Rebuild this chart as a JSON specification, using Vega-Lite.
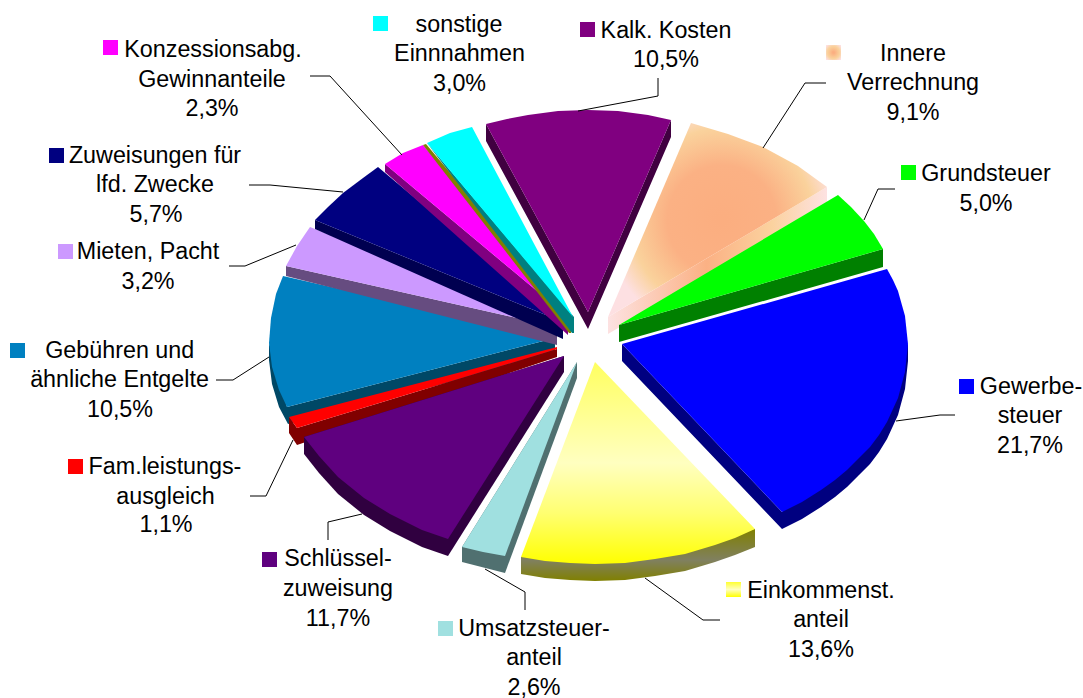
{"$schema":"https://vega.github.io/schema/vega-lite/v6.json","width":1083,"height":698,"padding":0,"autosize":{"type":"none"},"background":"white","config":{"view":{"stroke":null}},
"datasets":{
"shapes":[
{"k":"Gebuehren wall","i":1,"x":287,"y":407},{"k":"Gebuehren wall","i":2,"x":555,"y":338},{"k":"Gebuehren wall","i":3,"x":555,"y":355},{"k":"Gebuehren wall","i":4,"x":288,"y":424},{"k":"Gebuehren wall","i":5,"x":279,"y":407},{"k":"Gebuehren wall","i":6,"x":272,"y":384},{"k":"Gebuehren wall","i":7,"x":269,"y":360},{"k":"Gebuehren wall","i":8,"x":269,"y":343},
{"k":"Gebuehren top","i":1,"x":555,"y":338},{"k":"Gebuehren top","i":2,"x":283,"y":276},{"k":"Gebuehren top","i":3,"x":276,"y":294},{"k":"Gebuehren top","i":4,"x":271,"y":318},{"k":"Gebuehren top","i":5,"x":269,"y":343},{"k":"Gebuehren top","i":6,"x":272,"y":367},{"k":"Gebuehren top","i":7,"x":279,"y":390},{"k":"Gebuehren top","i":8,"x":287,"y":407},
{"k":"Mieten wall","i":1,"x":286,"y":266},{"k":"Mieten wall","i":2,"x":557,"y":327},{"k":"Mieten wall","i":3,"x":557,"y":345},{"k":"Mieten wall","i":4,"x":286,"y":276},
{"k":"Mieten top","i":1,"x":557,"y":327},{"k":"Mieten top","i":2,"x":286,"y":266},{"k":"Mieten top","i":3,"x":297,"y":246},{"k":"Mieten top","i":4,"x":310,"y":227},
{"k":"Zuweisung wall","i":1,"x":315,"y":220},{"k":"Zuweisung wall","i":2,"x":563,"y":322},{"k":"Zuweisung wall","i":3,"x":563,"y":339},{"k":"Zuweisung wall","i":4,"x":315,"y":229},
{"k":"Zuweisung top","i":1,"x":563,"y":322},{"k":"Zuweisung top","i":2,"x":315,"y":220},{"k":"Zuweisung top","i":3,"x":328,"y":207},{"k":"Zuweisung top","i":4,"x":343,"y":193},{"k":"Zuweisung top","i":5,"x":363,"y":178},{"k":"Zuweisung top","i":6,"x":378,"y":167},
{"k":"Konzession wall","i":1,"x":385,"y":164},{"k":"Konzession wall","i":2,"x":568,"y":317},{"k":"Konzession wall","i":3,"x":568,"y":335},{"k":"Konzession wall","i":4,"x":385,"y":172},
{"k":"Konzession top","i":1,"x":568,"y":317},{"k":"Konzession top","i":2,"x":385,"y":164},{"k":"Konzession top","i":3,"x":403,"y":153},{"k":"Konzession top","i":4,"x":423,"y":145},
{"k":"Olive top","i":1,"x":423,"y":145},{"k":"Olive top","i":2,"x":426,"y":144},{"k":"Olive top","i":3,"x":571,"y":317},{"k":"Olive top","i":4,"x":571,"y":333},{"k":"Olive top","i":5,"x":569,"y":333},
{"k":"Teal wall","i":1,"x":427,"y":143},{"k":"Teal wall","i":2,"x":574,"y":317},{"k":"Teal wall","i":3,"x":574,"y":333},{"k":"Teal wall","i":4,"x":572,"y":333},
{"k":"Sonstige top","i":1,"x":573,"y":317},{"k":"Sonstige top","i":2,"x":427,"y":143},{"k":"Sonstige top","i":3,"x":450,"y":133},{"k":"Sonstige top","i":4,"x":472,"y":127},
{"k":"Kalk wall","i":1,"x":486,"y":124},{"k":"Kalk wall","i":2,"x":486,"y":141},{"k":"Kalk wall","i":3,"x":588,"y":329},{"k":"Kalk wall","i":4,"x":671,"y":137},{"k":"Kalk wall","i":5,"x":671,"y":120},{"k":"Kalk wall","i":6,"x":588,"y":312},
{"k":"Kalk top","i":1,"x":588,"y":312},{"k":"Kalk top","i":2,"x":486,"y":124},{"k":"Kalk top","i":3,"x":507,"y":119},{"k":"Kalk top","i":4,"x":528,"y":115},{"k":"Kalk top","i":5,"x":558,"y":111},{"k":"Kalk top","i":6,"x":588,"y":110},{"k":"Kalk top","i":7,"x":618,"y":111},{"k":"Kalk top","i":8,"x":648,"y":115},{"k":"Kalk top","i":9,"x":671,"y":120},
{"k":"Gewerbe wall","i":1,"x":622,"y":344},{"k":"Gewerbe wall","i":2,"x":782,"y":512},{"k":"Gewerbe wall","i":3,"x":908,"y":344},{"k":"Gewerbe wall","i":4,"x":908,"y":361},{"k":"Gewerbe wall","i":5,"x":905,"y":389},{"k":"Gewerbe wall","i":6,"x":898,"y":415},{"k":"Gewerbe wall","i":7,"x":887,"y":439},{"k":"Gewerbe wall","i":8,"x":879,"y":452},{"k":"Gewerbe wall","i":9,"x":870,"y":464},{"k":"Gewerbe wall","i":10,"x":859,"y":475},{"k":"Gewerbe wall","i":11,"x":847,"y":487},{"k":"Gewerbe wall","i":12,"x":835,"y":497},{"k":"Gewerbe wall","i":13,"x":821,"y":507},{"k":"Gewerbe wall","i":14,"x":802,"y":519},{"k":"Gewerbe wall","i":15,"x":782,"y":529},{"k":"Gewerbe wall","i":16,"x":622,"y":361},
{"k":"Gewerbe top","i":1,"x":622,"y":344},{"k":"Gewerbe top","i":2,"x":887,"y":269},{"k":"Gewerbe top","i":3,"x":893,"y":280},{"k":"Gewerbe top","i":4,"x":898,"y":291},{"k":"Gewerbe top","i":5,"x":905,"y":316},{"k":"Gewerbe top","i":6,"x":908,"y":344},{"k":"Gewerbe top","i":7,"x":905,"y":372},{"k":"Gewerbe top","i":8,"x":898,"y":398},{"k":"Gewerbe top","i":9,"x":887,"y":422},{"k":"Gewerbe top","i":10,"x":879,"y":435},{"k":"Gewerbe top","i":11,"x":870,"y":447},{"k":"Gewerbe top","i":12,"x":859,"y":458},{"k":"Gewerbe top","i":13,"x":847,"y":470},{"k":"Gewerbe top","i":14,"x":835,"y":480},{"k":"Gewerbe top","i":15,"x":821,"y":490},{"k":"Gewerbe top","i":16,"x":802,"y":502},{"k":"Gewerbe top","i":17,"x":782,"y":512},
{"k":"Grund wall","i":1,"x":619,"y":325},{"k":"Grund wall","i":2,"x":883,"y":249},{"k":"Grund wall","i":3,"x":883,"y":267},{"k":"Grund wall","i":4,"x":619,"y":342},
{"k":"Grund top","i":1,"x":619,"y":325},{"k":"Grund top","i":2,"x":838,"y":195},{"k":"Grund top","i":3,"x":851,"y":207},{"k":"Grund top","i":4,"x":864,"y":221},{"k":"Grund top","i":5,"x":874,"y":234},{"k":"Grund top","i":6,"x":883,"y":249},
{"k":"Fam wall","i":1,"x":289,"y":417},{"k":"Fam wall","i":2,"x":297,"y":428},{"k":"Fam wall","i":3,"x":557,"y":349},{"k":"Fam wall","i":4,"x":557,"y":357},{"k":"Fam wall","i":5,"x":297,"y":445},{"k":"Fam wall","i":6,"x":289,"y":433},
{"k":"Fam top","i":1,"x":289,"y":417},{"k":"Fam top","i":2,"x":557,"y":347},{"k":"Fam top","i":3,"x":557,"y":349},{"k":"Fam top","i":4,"x":297,"y":428},
{"k":"Schluessel wall","i":1,"x":564,"y":356},{"k":"Schluessel wall","i":2,"x":564,"y":372},{"k":"Schluessel wall","i":3,"x":448,"y":556},{"k":"Schluessel wall","i":4,"x":422,"y":547},{"k":"Schluessel wall","i":5,"x":390,"y":531},{"k":"Schluessel wall","i":6,"x":364,"y":515},{"k":"Schluessel wall","i":7,"x":338,"y":494},{"k":"Schluessel wall","i":8,"x":319,"y":473},{"k":"Schluessel wall","i":9,"x":304,"y":454},{"k":"Schluessel wall","i":10,"x":304,"y":437},
{"k":"Schluessel top","i":1,"x":564,"y":356},{"k":"Schluessel top","i":2,"x":304,"y":437},{"k":"Schluessel top","i":3,"x":319,"y":456},{"k":"Schluessel top","i":4,"x":338,"y":477},{"k":"Schluessel top","i":5,"x":364,"y":498},{"k":"Schluessel top","i":6,"x":390,"y":514},{"k":"Schluessel top","i":7,"x":422,"y":530},{"k":"Schluessel top","i":8,"x":448,"y":539},
{"k":"Umsatz wall","i":1,"x":462,"y":547},{"k":"Umsatz wall","i":2,"x":462,"y":562},{"k":"Umsatz wall","i":3,"x":505,"y":573},{"k":"Umsatz wall","i":4,"x":577,"y":378},{"k":"Umsatz wall","i":5,"x":577,"y":362},
{"k":"Umsatz top","i":1,"x":577,"y":362},{"k":"Umsatz top","i":2,"x":462,"y":547},{"k":"Umsatz top","i":3,"x":483,"y":552},{"k":"Umsatz top","i":4,"x":505,"y":556}
],
"gradients":[
{"k":"Innere wall","i":1,"x":608,"y":317},{"k":"Innere wall","i":2,"x":827,"y":187},{"k":"Innere wall","i":3,"x":827,"y":204},{"k":"Innere wall","i":4,"x":608,"y":334},
{"k":"Innere top","i":1,"x":608,"y":317},{"k":"Innere top","i":2,"x":691,"y":123},{"k":"Innere top","i":3,"x":728,"y":134},{"k":"Innere top","i":4,"x":763,"y":147},{"k":"Innere top","i":5,"x":798,"y":166},{"k":"Innere top","i":6,"x":827,"y":187},
{"k":"Einkommen wall","i":1,"x":521,"y":557},{"k":"Einkommen wall","i":2,"x":755,"y":529},{"k":"Einkommen wall","i":3,"x":755,"y":547},{"k":"Einkommen wall","i":4,"x":735,"y":555},{"k":"Einkommen wall","i":5,"x":715,"y":562},{"k":"Einkommen wall","i":6,"x":685,"y":571},{"k":"Einkommen wall","i":7,"x":655,"y":576},{"k":"Einkommen wall","i":8,"x":625,"y":580},{"k":"Einkommen wall","i":9,"x":595,"y":581},{"k":"Einkommen wall","i":10,"x":570,"y":580},{"k":"Einkommen wall","i":11,"x":545,"y":578},{"k":"Einkommen wall","i":12,"x":521,"y":574},
{"k":"Einkommen top","i":1,"x":595,"y":362},{"k":"Einkommen top","i":2,"x":521,"y":557},{"k":"Einkommen top","i":3,"x":545,"y":561},{"k":"Einkommen top","i":4,"x":570,"y":563},{"k":"Einkommen top","i":5,"x":595,"y":564},{"k":"Einkommen top","i":6,"x":625,"y":563},{"k":"Einkommen top","i":7,"x":655,"y":559},{"k":"Einkommen top","i":8,"x":685,"y":554},{"k":"Einkommen top","i":9,"x":715,"y":545},{"k":"Einkommen top","i":10,"x":735,"y":538},{"k":"Einkommen top","i":11,"x":755,"y":529}
],
"leaders":[
{"k":"a","i":1,"x":310,"y":76},{"k":"a","i":2,"x":330,"y":76},{"k":"a","i":3,"x":402,"y":155},
{"k":"b","i":1,"x":249,"y":185},{"k":"b","i":2,"x":270,"y":185},{"k":"b","i":3,"x":343,"y":192},
{"k":"c","i":1,"x":229,"y":266},{"k":"c","i":2,"x":245,"y":266},{"k":"c","i":3,"x":296,"y":245},
{"k":"d","i":1,"x":216,"y":380},{"k":"d","i":2,"x":233,"y":380},{"k":"d","i":3,"x":269,"y":357},
{"k":"e","i":1,"x":250,"y":496},{"k":"e","i":2,"x":266,"y":496},{"k":"e","i":3,"x":293,"y":440},
{"k":"f","i":1,"x":328,"y":540},{"k":"f","i":2,"x":328,"y":522},{"k":"f","i":3,"x":362,"y":514},
{"k":"g","i":1,"x":525,"y":610},{"k":"g","i":2,"x":525,"y":592},{"k":"g","i":3,"x":485,"y":569},
{"k":"h","i":1,"x":720,"y":620},{"k":"h","i":2,"x":703,"y":620},{"k":"h","i":3,"x":645,"y":578},
{"k":"j","i":1,"x":955,"y":415},{"k":"j","i":2,"x":940,"y":415},{"k":"j","i":3,"x":896,"y":421},
{"k":"l","i":1,"x":895,"y":189},{"k":"l","i":2,"x":878,"y":189},{"k":"l","i":3,"x":864,"y":220},
{"k":"m","i":1,"x":826,"y":83},{"k":"m","i":2,"x":805,"y":83},{"k":"m","i":3,"x":763,"y":148},
{"k":"n","i":1,"x":658,"y":78},{"k":"n","i":2,"x":658,"y":96},{"k":"n","i":3,"x":578,"y":111}
],
"labels":[
{"t":"sonstige","x":459,"y":24},{"t":"Einnnahmen","x":459.5,"y":53},{"t":"3,0%","x":459.5,"y":83},
{"t":"Kalk. Kosten","x":666,"y":30},{"t":"10,5%","x":666,"y":59},
{"t":"Innere","x":913,"y":53},{"t":"Verrechnung","x":913,"y":82},{"t":"9,1%","x":913,"y":112},
{"t":"Grundsteuer","x":986,"y":173},{"t":"5,0%","x":986,"y":203},
{"t":"Gewerbe-","x":1031,"y":386},{"t":"steuer","x":1030,"y":415},{"t":"21,7%","x":1030,"y":445},
{"t":"Einkommenst.","x":821,"y":590},{"t":"anteil","x":821,"y":619},{"t":"13,6%","x":821,"y":649},
{"t":"Umsatzsteuer-","x":534,"y":628},{"t":"anteil","x":534,"y":657},{"t":"2,6%","x":534,"y":687},
{"t":"Schlüssel-","x":338,"y":558},{"t":"zuweisung","x":338,"y":588},{"t":"11,7%","x":338,"y":618},
{"t":"Fam.leistungs-","x":165,"y":466},{"t":"ausgleich","x":165.5,"y":496},{"t":"1,1%","x":166,"y":524},
{"t":"Gebühren und","x":119.7,"y":350},{"t":"ähnliche Entgelte","x":119.5,"y":379},{"t":"10,5%","x":120,"y":409},
{"t":"Mieten, Pacht","x":148,"y":251},{"t":"3,2%","x":148,"y":281},
{"t":"Zuweisungen für","x":155,"y":155},{"t":"lfd. Zwecke","x":155,"y":184},{"t":"5,7%","x":156,"y":214},
{"t":"Konzessionsabg.","x":213,"y":49},{"t":"Gewinnanteile","x":212,"y":79},{"t":"2,3%","x":212,"y":108}
],
"swatches":[
{"k":"Sonstige top","x":380.5,"y":23.5},{"k":"Kalk top","x":587.5,"y":29.5},{"k":"Grund top","x":908.5,"y":172.5},{"k":"Gewerbe top","x":966.5,"y":386.5},{"k":"Umsatz top","x":445.5,"y":628.5},{"k":"Schluessel top","x":269.5,"y":559.5},{"k":"Fam top","x":75.5,"y":466.5},{"k":"Gebuehren top","x":17.5,"y":350.5},{"k":"Mieten top","x":65.5,"y":251.5},{"k":"Zuweisung top","x":56.5,"y":155.5},{"k":"Konzession top","x":110.5,"y":47.5}
],
"innereSwatch":[{"k":"Innere","x":833.5,"y":52.5}],
"einkommenSwatch":[{"k":"Einkommen","x":733.5,"y":589.5}]
},
"encoding":{
"x":{"field":"x","type":"quantitative","scale":{"domain":[0,1083],"nice":false,"zero":false},"axis":null},
"y":{"field":"y","type":"quantitative","scale":{"domain":[698,0],"nice":false,"zero":false},"axis":null}
},
"layer":[
{"data":{"name":"gradients"},"transform":[{"filter":"datum.k=='Innere wall'"}],"mark":{"type":"line","strokeWidth":0,"fill":{"gradient":"linear","x1":0,"y1":0,"x2":1,"y2":0,"stops":[{"offset":0,"color":"#fde2e2"},{"offset":0.45,"color":"#fbb184"},{"offset":0.75,"color":"#fbd29f"},{"offset":1,"color":"#fde2e2"}]}},"encoding":{"order":{"field":"i"}}},
{"data":{"name":"gradients"},"transform":[{"filter":"datum.k=='Innere top'"}],"mark":{"type":"line","strokeWidth":0,"fill":{"gradient":"radial","x1":0.52,"y1":0.5,"r1":0.02,"x2":0.52,"y2":0.5,"r2":0.53,"stops":[{"offset":0,"color":"#fbae80"},{"offset":0.45,"color":"#fbb184"},{"offset":0.78,"color":"#fad29c"},{"offset":1,"color":"#fde0e2"}]}},"encoding":{"order":{"field":"i"}}},
{"data":{"name":"shapes"},"mark":{"type":"line","strokeWidth":0},"encoding":{"order":{"field":"i"},"fill":{"field":"k","type":"nominal","legend":null,"scale":{"domain":["Gebuehren wall","Gebuehren top","Mieten wall","Mieten top","Zuweisung wall","Zuweisung top","Konzession wall","Konzession top","Olive top","Teal wall","Sonstige top","Kalk wall","Kalk top","Gewerbe wall","Gewerbe top","Grund wall","Grund top","Fam wall","Fam top","Schluessel wall","Schluessel top","Umsatz wall","Umsatz top"],"range":["#004866","#0080c0","#664c80","#cc99ff","#000050","#000080","#800080","#ff00ff","#808000","#008080","#00ffff","#400040","#800080","#000080","#0000ff","#008000","#00ff00","#800000","#ff0000","#300040","#5f007f","#507070","#a0e0e0"]}}}},
{"data":{"name":"gradients"},"transform":[{"filter":"datum.k=='Einkommen wall'"}],"mark":{"type":"line","strokeWidth":0,"fill":{"gradient":"linear","x1":0,"y1":0,"x2":0,"y2":1,"stops":[{"offset":0,"color":"#808000"},{"offset":0.6,"color":"#808060"},{"offset":1,"color":"#808000"}]}},"encoding":{"order":{"field":"i"}}},
{"data":{"name":"gradients"},"transform":[{"filter":"datum.k=='Einkommen top'"}],"mark":{"type":"line","strokeWidth":0,"fill":{"gradient":"linear","x1":0,"y1":0,"x2":0,"y2":1,"stops":[{"offset":0,"color":"#ffff60"},{"offset":0.25,"color":"#ffff90"},{"offset":0.5,"color":"#ffffc0"},{"offset":0.75,"color":"#ffff70"},{"offset":1,"color":"#ffff00"}]}},"encoding":{"order":{"field":"i"}}},
{"data":{"name":"leaders"},"mark":{"type":"line","color":"#000000","strokeWidth":1},"encoding":{"order":{"field":"i"},"detail":{"field":"k"}}},
{"data":{"name":"swatches"},"mark":{"type":"point","shape":"square","filled":true,"size":225,"opacity":1},"encoding":{"fill":{"field":"k","type":"nominal","legend":null,"scale":{"domain":["Gebuehren wall","Gebuehren top","Mieten wall","Mieten top","Zuweisung wall","Zuweisung top","Konzession wall","Konzession top","Olive top","Teal wall","Sonstige top","Kalk wall","Kalk top","Gewerbe wall","Gewerbe top","Grund wall","Grund top","Fam wall","Fam top","Schluessel wall","Schluessel top","Umsatz wall","Umsatz top"],"range":["#004866","#0080c0","#664c80","#cc99ff","#000050","#000080","#800080","#ff00ff","#808000","#008080","#00ffff","#400040","#800080","#000080","#0000ff","#008000","#00ff00","#800000","#ff0000","#300040","#5f007f","#507070","#a0e0e0"]}}}},
{"data":{"name":"innereSwatch"},"mark":{"type":"point","shape":"square","size":225,"opacity":1,"strokeWidth":0,"fill":{"gradient":"radial","x1":0.5,"y1":0.5,"r1":0.05,"x2":0.5,"y2":0.5,"r2":0.65,"stops":[{"offset":0,"color":"#fbae80"},{"offset":0.6,"color":"#fad29c"},{"offset":1,"color":"#fde0e2"}]}}},
{"data":{"name":"einkommenSwatch"},"mark":{"type":"point","shape":"square","size":225,"opacity":1,"strokeWidth":0,"fill":{"gradient":"linear","x1":0,"y1":0,"x2":0,"y2":1,"stops":[{"offset":0,"color":"#ffff30"},{"offset":0.5,"color":"#ffffc0"},{"offset":1,"color":"#ffff00"}]}}},
{"data":{"name":"labels"},"mark":{"type":"text","font":"Liberation Sans","fontSize":23.3,"color":"#000000","align":"center","baseline":"middle","dy":1},"encoding":{"text":{"field":"t"}}}
]}
